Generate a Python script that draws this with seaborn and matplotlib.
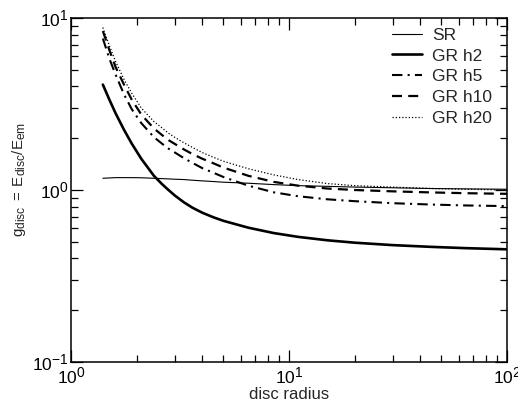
import numpy as np
import pandas as pd
import matplotlib
matplotlib.use("Agg")
import matplotlib.pyplot as plt
import seaborn as sns
from matplotlib.ticker import LogLocator, LogFormatterSciNotation, NullFormatter

try:
    import matplotlib._mathtext as _mt
    _mt.SHRINK_FACTOR = 0.8
except Exception:
    pass

radius = [1.4, 1.5, 1.6, 1.75, 1.9, 2.1, 2.4, 2.6, 2.8, 3.0, 3.3, 3.6, 4, 4.5, 5, 6.5, 8.5, 11, 15, 20, 30, 45, 65, 100]
sr     = [1.17, 1.175, 1.18, 1.18, 1.18, 1.178, 1.17, 1.165, 1.16, 1.155, 1.15, 1.14, 1.13, 1.12, 1.11, 1.095, 1.075, 1.06, 1.05, 1.04, 1.03, 1.02, 1.015, 1.01]
gr_h2  = [4.1, 3.35, 2.80, 2.24, 1.86, 1.52, 1.21, 1.09, 1.0, 0.927, 0.847, 0.79, 0.738, 0.694, 0.662, 0.604, 0.562, 0.534, 0.51, 0.494, 0.478, 0.467, 0.459, 0.452]
gr_h5  = [7.6, 5.8, 4.7, 3.6, 2.95, 2.45, 2.03, 1.87, 1.74, 1.65, 1.53, 1.44, 1.34, 1.26, 1.19, 1.06, 0.97, 0.92, 0.883, 0.861, 0.838, 0.823, 0.813, 0.806]
gr_h10 = [8.4, 6.5, 5.2, 4.1, 3.35, 2.75, 2.28, 2.1, 1.95, 1.85, 1.72, 1.62, 1.52, 1.43, 1.35, 1.21, 1.115, 1.06, 1.02, 1.0, 0.982, 0.968, 0.958, 0.95]
gr_h20 = [8.8, 6.9, 5.6, 4.4, 3.65, 3.0, 2.5, 2.31, 2.14, 2.02, 1.88, 1.77, 1.65, 1.55, 1.47, 1.33, 1.225, 1.15, 1.09, 1.06, 1.04, 1.02, 1.01, 1.0]
series_names = ["SR", "GR h2", "GR h5", "GR h10", "GR h20"]

sns.set_theme(style="ticks")
plt.rcParams['font.family'] = ['Liberation Sans', 'DejaVu Sans']
plt.rcParams['mathtext.fontset'] = 'custom'
plt.rcParams['mathtext.rm'] = 'Liberation Sans'
plt.rcParams['mathtext.it'] = 'Liberation Sans'
plt.rcParams['mathtext.bf'] = 'Liberation Sans:bold'

frames = []
for name, vals in zip(series_names, [sr, gr_h2, gr_h5, gr_h10, gr_h20]):
    frames.append(pd.DataFrame({"radius": radius, "g": vals, "model": name}))
df = pd.concat(frames, ignore_index=True)

fig = plt.figure(figsize=(5.18, 4.09), dpi=100)
ax = fig.add_axes([71/518, 47/409, 436/518, 344/409])

styles = {
    "SR": dict(lw=0.8, ls="-"),
    "GR h2": dict(lw=1.9, ls="-"),
    "GR h5": dict(lw=1.5, ls=(0, (5, 2.5, 1, 2.5))),
    "GR h10": dict(lw=1.6, ls=(0, (4.5, 2.8))),
    "GR h20": dict(lw=0.9, ls=(0, (1, 1.6))),
}
for name in series_names:
    sub = df[df["model"] == name]
    sns.lineplot(data=sub, x="radius", y="g", ax=ax, color="black",
                 linewidth=styles[name]["lw"], linestyle=styles[name]["ls"],
                 label=name, estimator=None, sort=False)

ax.set_xscale("log")
ax.set_yscale("log")
ax.set_xlim(1, 100)
ax.set_ylim(0.1, 10)

for axis in (ax.xaxis, ax.yaxis):
    axis.set_major_locator(LogLocator(base=10, numticks=10))
    axis.set_minor_locator(LogLocator(base=10, subs=np.arange(2, 10), numticks=100))
    axis.set_major_formatter(LogFormatterSciNotation())
    axis.set_minor_formatter(NullFormatter())

ax.tick_params(which="both", direction="in", top=True, right=True, colors="black", labelsize=12.5)
ax.tick_params(which="major", length=8.5, width=0.9)
ax.tick_params(which="minor", length=5, width=0.9)
ax.tick_params(axis="x", which="major", pad=2.5)
ax.tick_params(axis="y", which="major", pad=2)
for s in ax.spines.values():
    s.set_linewidth(1.1)
    s.set_color("black")

ax.set_xlabel("disc radius", fontsize=12, labelpad=0.5)
ax.set_ylabel(r"$\mathregular{g_{disc}\;=\;E_{disc}/E_{em}}$", fontsize=10.8)
ax.yaxis.set_label_coords(-0.098, 0.53)

leg = ax.legend(loc="upper right", frameon=False, fontsize=12.5, handlelength=1.75,
                handletextpad=0.57, labelspacing=0.32, borderaxespad=0.0,
                bbox_to_anchor=(0.982, 0.992))

fig.savefig("out.png", dpi=100)
